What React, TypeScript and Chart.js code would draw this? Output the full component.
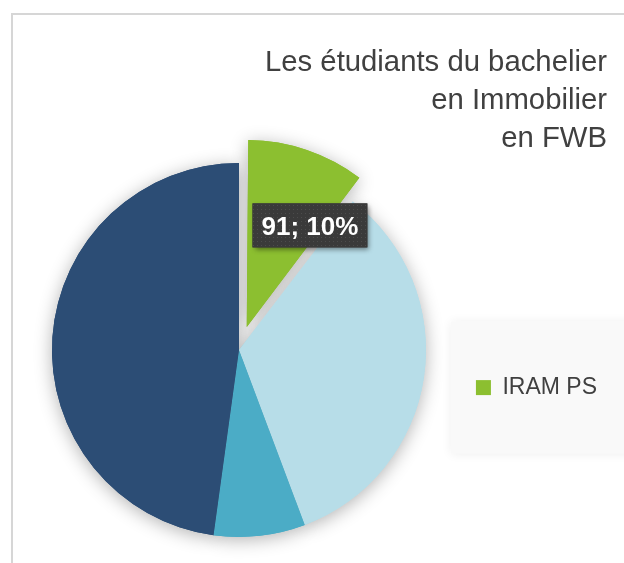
import { useEffect, useRef } from 'react';
import { Chart, registerables } from 'chart.js';

Chart.register(...registerables);

const titleLines = ['Les étudiants du bachelier', 'en Immobilier', 'en FWB'];
const categories = ['IRAM PS', 'Établissement B', 'Établissement C', 'Établissement D'];
const values = [91, 296, 69, 418];
const colors = ['#8CBF30', '#B7DDE8', '#4BACC6', '#2C4D75'];
const explode = [97, 0, 0, 0];
const legendShown = ['IRAM PS'];
const labelledIndex = [0];

const FONT = "'Liberation Sans', Arial, sans-serif";

let dotPattern: CanvasPattern | null = null;
function getPattern(ctx: CanvasRenderingContext2D) {
  if (dotPattern) return dotPattern;
  const c = document.createElement('canvas');
  c.width = 4;
  c.height = 4;
  const g = c.getContext('2d')!;
  g.fillStyle = '#3A3A3A';
  g.fillRect(0, 0, 4, 4);
  g.fillStyle = '#4C4C4C';
  g.fillRect(1, 1, 1, 1);
  dotPattern = ctx.createPattern(c, 'repeat');
  return dotPattern;
}

function radiusGrowth(arc: any) {
  const off = ((arc.options && arc.options.offset) || 0) / 4;
  return off * (1 - Math.sin(Math.min(Math.PI, arc.circumference || 0)));
}

const fixExplodedRadius = {
  id: 'fixExplodedRadius',
  afterDatasetsUpdate(chart: any) {
    const meta = chart.getDatasetMeta(0);
    meta.data.forEach((arc: any) => {
      const g = radiusGrowth(arc);
      if (g > 0) arc.outerRadius -= g;
    });
  },
};

const pieShadow = {
  id: 'pieShadow',
  beforeDatasetsDraw(chart: any) {
    const ctx = chart.ctx;
    const meta = chart.getDatasetMeta(0);
    ctx.save();
    ctx.shadowColor = 'rgba(0,0,0,0.30)';
    ctx.shadowBlur = 18;
    ctx.shadowOffsetX = 0;
    ctx.shadowOffsetY = 3;
    meta.data.forEach((arc: any) => arc.draw(ctx));
    ctx.restore();
  },
};

const legendPanel = {
  id: 'legendPanel',
  beforeDraw(chart: any) {
    const lg: any = chart.legend;
    if (!lg || !lg.legendHitBoxes || !lg.legendHitBoxes.length) return;
    const hb = lg.legendHitBoxes[0];
    const cy = hb.top + hb.height / 2;
    const ctx = chart.ctx;
    ctx.save();
    ctx.shadowColor = 'rgba(0,0,0,0.07)';
    ctx.shadowBlur = 10;
    ctx.fillStyle = '#F9F9F9';
    ctx.fillRect(hb.left - 25, cy - 66, chart.width - hb.left + 60, 132);
    ctx.restore();
  },
};

const sliceLabel = {
  id: 'sliceLabel',
  afterDatasetsDraw(chart: any) {
    const ctx: CanvasRenderingContext2D = chart.ctx;
    const meta = chart.getDatasetMeta(0);
    const data = chart.data.datasets[0].data as number[];
    const total = data.reduce((a, b) => a + b, 0);
    labelledIndex.forEach((i) => {
      const arc: any = meta.data[i];
      const shift = ((arc.options && arc.options.offset) || 0) / 4;
      const half = (arc.startAngle + arc.endAngle) / 2;
      const cx = arc.x + Math.cos(half) * shift;
      const cy = arc.y + Math.sin(half) * shift;
      const drawnR = arc.outerRadius + radiusGrowth(arc);
      const a = arc.startAngle + 0.85 * (arc.endAngle - arc.startAngle);
      const r = drawnR * 0.64;
      const x = cx + Math.cos(a) * r;
      const y = cy + Math.sin(a) * r;
      const text = `${data[i]}; ${Math.round((data[i] / total) * 100)}%`;
      ctx.save();
      ctx.font = `bold 26px ${FONT}`;
      const w = ctx.measureText(text).width + 18;
      const h = 44;
      ctx.shadowColor = 'rgba(0,0,0,0.45)';
      ctx.shadowBlur = 5;
      ctx.shadowOffsetX = 2;
      ctx.shadowOffsetY = 3;
      ctx.fillStyle = '#3A3A3A';
      ctx.fillRect(x - w / 2, y - h / 2, w, h);
      ctx.shadowColor = 'rgba(0,0,0,0)';
      const p = getPattern(ctx);
      if (p) {
        ctx.fillStyle = p;
        ctx.fillRect(x - w / 2, y - h / 2, w, h);
      }
      ctx.fillStyle = '#FFFFFF';
      ctx.textAlign = 'center';
      ctx.textBaseline = 'middle';
      ctx.fillText(text, x, y + 2);
      ctx.restore();
    });
  },
};

export default function App() {
  const ref = useRef<HTMLCanvasElement>(null);
  useEffect(() => {
    const chart = new Chart(ref.current as HTMLCanvasElement, {
      type: 'pie',
      data: {
        labels: categories,
        datasets: [
          {
            data: values,
            backgroundColor: colors,
            borderWidth: 0,
            offset: explode,
            radius: 187,
          } as any,
        ],
      },
      options: {
        responsive: false,
        animation: false,
        layout: { padding: { left: 12, right: 17, top: 0, bottom: 21 } },
        plugins: {
          title: {
            display: true,
            text: titleLines,
            align: 'end',
            color: '#404040',
            font: { size: 29.3, family: FONT, weight: 'normal', lineHeight: 38 / 29.3 },
            padding: { top: 44, bottom: 0 },
          },
          legend: {
            position: 'right',
            align: 'center',
            fullSize: false,
            title: { display: true, text: '', padding: { top: 74, bottom: 0 }, font: { size: 1 } },
            labels: {
              boxWidth: 15,
              boxHeight: 15,
              padding: 10,
              color: '#404040',
              font: { size: 23, family: FONT },
              filter: (item: any) => legendShown.includes(item.text),
            },
          },
          tooltip: { enabled: false },
        },
      } as any,
      plugins: [fixExplodedRadius, pieShadow, legendPanel, sliceLabel],
    });
    return () => chart.destroy();
  }, []);
  return (
    <div
      style={{
        position: 'fixed',
        left: 0,
        top: 0,
        width: 624,
        height: 563,
        overflow: 'hidden',
        background: '#FFFFFF',
      }}
    >
      <div
        style={{
          position: 'absolute',
          left: 11,
          top: 13,
          width: 800,
          height: 800,
          borderLeft: '2px solid #D6D6D6',
          borderTop: '2px solid #D6D6D6',
        }}
      />
      <canvas
        ref={ref}
        width={624}
        height={563}
        style={{ position: 'absolute', left: 0, top: 0, display: 'block' }}
      />
    </div>
  );
}
